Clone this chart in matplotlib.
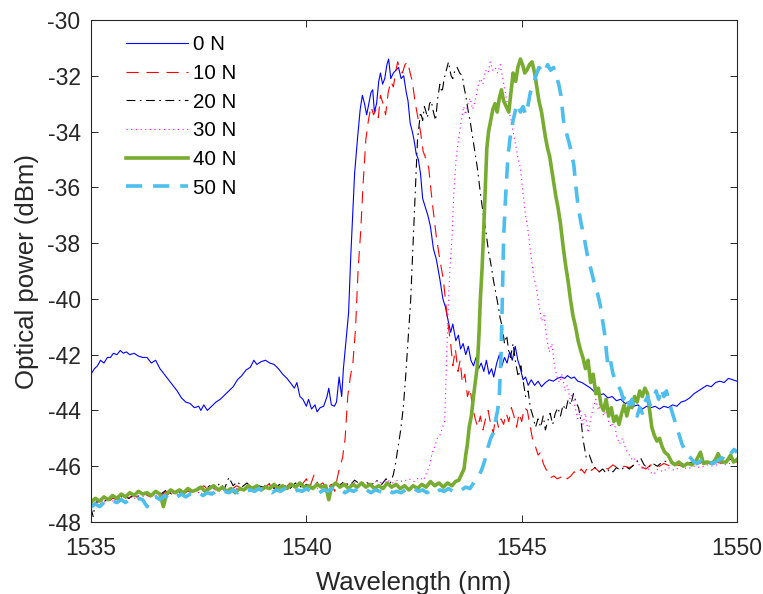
import matplotlib
matplotlib.use('Agg')
import matplotlib.pyplot as plt

plt.rcParams['font.family'] = ['Liberation Sans', 'DejaVu Sans']
plt.rcParams['axes.unicode_minus'] = False

# spectra: (wavelength nm, optical power dBm)
s_0n = [
    (1535.00, -42.7), (1535.08, -42.5), (1535.15, -42.4), (1535.22, -42.2), (1535.30, -42.3), (1535.38, -42.1),
    (1535.45, -42.1), (1535.52, -41.95), (1535.60, -42.0), (1535.68, -41.85), (1535.75, -41.95), (1535.82, -41.9),
    (1535.90, -42.0), (1536.00, -41.95), (1536.10, -42.05), (1536.20, -42.1), (1536.30, -42.1), (1536.40, -42.3),
    (1536.50, -42.2), (1536.60, -42.5), (1536.70, -42.7), (1536.80, -42.9), (1536.90, -43.1), (1537.00, -43.3),
    (1537.10, -43.55), (1537.20, -43.7), (1537.30, -43.75), (1537.40, -43.9), (1537.50, -43.85), (1537.55, -44.0),
    (1537.62, -43.8), (1537.70, -44.0), (1537.80, -43.85), (1537.90, -43.7), (1538.00, -43.6), (1538.10, -43.45),
    (1538.20, -43.3), (1538.30, -43.15), (1538.40, -42.9), (1538.50, -42.75), (1538.60, -42.55), (1538.70, -42.45),
    (1538.78, -42.2), (1538.85, -42.35), (1538.95, -42.25), (1539.05, -42.2), (1539.15, -42.3), (1539.25, -42.35),
    (1539.35, -42.5), (1539.45, -42.7), (1539.55, -42.85), (1539.65, -43.05), (1539.72, -43.2), (1539.78, -43.0),
    (1539.85, -43.5), (1539.92, -43.6), (1540.00, -43.85), (1540.05, -43.6), (1540.12, -43.95), (1540.20, -43.8),
    (1540.25, -44.05), (1540.32, -43.9), (1540.40, -43.85), (1540.48, -43.5), (1540.52, -43.2), (1540.58, -43.8),
    (1540.65, -43.85), (1540.70, -43.7), (1540.76, -42.8), (1540.82, -43.5), (1540.86, -42.5), (1540.92, -41.5),
    (1540.98, -40.5), (1541.03, -38.5), (1541.07, -37.2), (1541.12, -35.5), (1541.19, -34.2), (1541.25, -33.2),
    (1541.30, -32.7), (1541.35, -33.0), (1541.40, -33.4), (1541.45, -33.0), (1541.50, -32.6), (1541.54, -32.5),
    (1541.58, -33.3), (1541.63, -33.0), (1541.68, -32.2), (1541.72, -31.9), (1541.77, -32.3), (1541.82, -32.1),
    (1541.87, -31.6), (1541.91, -31.4), (1541.96, -32.1), (1542.02, -31.9), (1542.08, -31.8), (1542.14, -31.7),
    (1542.20, -32.1), (1542.26, -32.0), (1542.32, -32.6), (1542.36, -32.9), (1542.41, -33.7), (1542.46, -34.0),
    (1542.50, -34.3), (1542.55, -34.8), (1542.60, -35.0), (1542.65, -35.5), (1542.70, -36.4), (1542.76, -36.7),
    (1542.82, -37.0), (1542.88, -37.4), (1542.95, -38.2), (1543.02, -38.6), (1543.10, -39.3), (1543.17, -40.0),
    (1543.23, -40.3), (1543.28, -40.7), (1543.35, -41.2), (1543.40, -40.9), (1543.47, -41.5), (1543.53, -41.3),
    (1543.58, -41.8), (1543.64, -41.6), (1543.70, -42.0), (1543.76, -41.7), (1543.82, -42.2), (1543.88, -42.4),
    (1543.94, -42.1), (1544.00, -42.5), (1544.06, -42.3), (1544.12, -42.6), (1544.18, -42.2), (1544.24, -42.7),
    (1544.30, -42.5), (1544.35, -42.8), (1544.42, -42.3), (1544.48, -42.0), (1544.54, -42.4), (1544.60, -42.1),
    (1544.66, -42.3), (1544.72, -41.9), (1544.78, -42.2), (1544.85, -41.7), (1544.91, -42.2), (1544.97, -42.5),
    (1545.03, -42.9), (1545.09, -42.8), (1545.15, -43.1), (1545.22, -42.9), (1545.30, -43.1), (1545.38, -42.95),
    (1545.46, -43.15), (1545.55, -43.0), (1545.64, -42.9), (1545.73, -42.95), (1545.83, -42.85), (1545.92, -42.8),
    (1546.00, -42.85), (1546.06, -42.75), (1546.15, -42.85), (1546.22, -42.8), (1546.30, -42.95), (1546.40, -43.0),
    (1546.50, -43.1), (1546.60, -43.2), (1546.70, -43.35), (1546.80, -43.45), (1546.90, -43.4), (1547.00, -43.55),
    (1547.10, -43.5), (1547.20, -43.65), (1547.30, -43.6), (1547.40, -43.75), (1547.50, -43.7), (1547.60, -43.85),
    (1547.70, -43.8), (1547.80, -43.95), (1547.90, -43.85), (1548.00, -43.9), (1548.10, -43.85), (1548.20, -43.95),
    (1548.30, -43.85), (1548.40, -43.9), (1548.50, -43.8), (1548.60, -43.85), (1548.70, -43.7), (1548.80, -43.65),
    (1548.90, -43.55), (1549.00, -43.4), (1549.10, -43.3), (1549.20, -43.2), (1549.30, -43.1), (1549.40, -43.15),
    (1549.50, -43.0), (1549.60, -42.95), (1549.70, -43.0), (1549.80, -42.85), (1549.90, -42.9), (1550.00, -42.95)]

s_10n = [
    (1535.00, -47.4), (1535.12, -47.3), (1535.25, -47.25), (1535.38, -47.3), (1535.50, -47.15), (1535.62, -47.2),
    (1535.75, -47.1), (1535.88, -47.15), (1536.00, -47.05), (1536.12, -47.15), (1536.25, -47.0), (1536.38, -47.1),
    (1536.50, -46.95), (1536.62, -47.05), (1536.75, -46.9), (1536.88, -47.0), (1537.00, -46.95), (1537.12, -47.0),
    (1537.25, -46.9), (1537.38, -46.95), (1537.50, -46.85), (1537.62, -46.7), (1537.75, -46.9), (1537.88, -46.8),
    (1538.00, -46.85), (1538.12, -46.75), (1538.25, -46.85), (1538.38, -46.7), (1538.50, -46.8), (1538.62, -46.75),
    (1538.75, -46.85), (1538.88, -46.7), (1539.00, -46.8), (1539.12, -46.65), (1539.25, -46.75), (1539.38, -46.7),
    (1539.50, -46.8), (1539.62, -46.6), (1539.75, -46.75), (1539.88, -46.7), (1540.00, -46.45), (1540.08, -46.75),
    (1540.18, -46.3), (1540.28, -46.7), (1540.38, -46.6), (1540.48, -46.8), (1540.58, -46.65), (1540.66, -46.9),
    (1540.72, -46.4), (1540.78, -46.0), (1540.84, -45.7), (1540.90, -45.0), (1540.96, -43.5), (1541.02, -42.8),
    (1541.08, -42.3), (1541.14, -41.1), (1541.20, -39.0), (1541.26, -37.6), (1541.32, -35.8), (1541.38, -34.3),
    (1541.44, -33.6), (1541.50, -33.1), (1541.56, -33.4), (1541.62, -33.2), (1541.67, -33.5), (1541.72, -32.7),
    (1541.78, -33.0), (1541.84, -33.4), (1541.90, -32.6), (1541.96, -32.2), (1542.02, -32.4), (1542.08, -31.8),
    (1542.12, -31.5), (1542.18, -31.8), (1542.23, -31.9), (1542.29, -31.6), (1542.35, -31.5), (1542.41, -31.9),
    (1542.46, -32.2), (1542.53, -33.0), (1542.59, -33.5), (1542.65, -34.0), (1542.71, -34.7), (1542.78, -35.0),
    (1542.84, -35.3), (1542.90, -36.2), (1542.95, -36.9), (1543.02, -37.8), (1543.10, -38.6), (1543.18, -39.3),
    (1543.24, -40.2), (1543.28, -40.8), (1543.35, -41.6), (1543.40, -42.4), (1543.46, -41.8), (1543.52, -42.6),
    (1543.57, -42.2), (1543.62, -43.0), (1543.68, -42.7), (1543.74, -43.5), (1543.80, -43.2), (1543.86, -43.9),
    (1543.92, -44.3), (1543.98, -44.6), (1544.04, -44.2), (1544.10, -44.7), (1544.16, -44.3), (1544.22, -44.0),
    (1544.28, -44.5), (1544.34, -44.8), (1544.40, -44.2), (1544.46, -44.6), (1544.52, -44.3), (1544.58, -44.5),
    (1544.64, -44.1), (1544.70, -44.4), (1544.76, -43.9), (1544.82, -44.2), (1544.88, -44.6), (1544.94, -44.1),
    (1545.00, -44.4), (1545.06, -43.9), (1545.13, -44.0), (1545.20, -44.6), (1545.26, -45.1), (1545.32, -45.3),
    (1545.38, -45.6), (1545.44, -45.5), (1545.50, -45.9), (1545.56, -46.1), (1545.62, -46.2), (1545.68, -46.4),
    (1545.75, -46.35), (1545.82, -46.45), (1545.90, -46.4), (1545.98, -46.3), (1546.06, -46.45), (1546.14, -46.35),
    (1546.22, -46.2), (1546.30, -46.3), (1546.38, -46.1), (1546.46, -46.25), (1546.54, -46.0), (1546.62, -46.15),
    (1546.70, -46.05), (1546.80, -46.2), (1546.90, -46.05), (1547.00, -46.1), (1547.12, -45.95), (1547.25, -46.1),
    (1547.38, -46.0), (1547.50, -46.05), (1547.62, -45.95), (1547.75, -46.0), (1547.88, -46.1), (1548.00, -45.95),
    (1548.15, -46.05), (1548.30, -45.9), (1548.45, -46.0), (1548.60, -45.95), (1548.75, -46.0), (1548.90, -45.9),
    (1549.05, -45.95), (1549.20, -45.85), (1549.35, -45.95), (1549.50, -45.85), (1549.65, -45.9), (1549.80, -45.8),
    (1550.00, -45.85)]

s_20n = [
    (1535.00, -47.5), (1535.05, -47.8), (1535.10, -47.3), (1535.25, -47.2), (1535.38, -47.25), (1535.50, -47.1),
    (1535.62, -47.2), (1535.75, -47.05), (1535.88, -47.15), (1536.00, -47.0), (1536.12, -47.1), (1536.25, -46.95),
    (1536.38, -47.05), (1536.50, -46.9), (1536.62, -47.0), (1536.75, -46.85), (1536.88, -47.0), (1537.00, -46.9),
    (1537.12, -46.95), (1537.25, -46.85), (1537.38, -46.9), (1537.50, -46.75), (1537.62, -46.9), (1537.75, -46.7),
    (1537.88, -46.8), (1538.00, -46.6), (1538.10, -46.8), (1538.20, -46.4), (1538.30, -46.7), (1538.40, -46.55),
    (1538.50, -46.75), (1538.62, -46.6), (1538.75, -46.8), (1538.88, -46.7), (1539.00, -46.75), (1539.12, -46.6),
    (1539.25, -46.8), (1539.38, -46.65), (1539.50, -46.7), (1539.62, -46.8), (1539.75, -46.6), (1539.88, -46.75),
    (1540.00, -46.65), (1540.12, -46.75), (1540.25, -46.6), (1540.38, -46.7), (1540.50, -46.85), (1540.62, -46.6),
    (1540.75, -46.7), (1540.88, -46.55), (1541.00, -46.7), (1541.12, -46.5), (1541.25, -46.65), (1541.38, -46.55),
    (1541.50, -46.7), (1541.62, -46.5), (1541.75, -46.65), (1541.85, -46.45), (1541.95, -46.6), (1542.02, -46.3),
    (1542.07, -45.9), (1542.12, -45.4), (1542.19, -44.7), (1542.25, -43.9), (1542.30, -42.9), (1542.36, -41.5),
    (1542.42, -40.1), (1542.48, -37.9), (1542.53, -36.0), (1542.58, -34.3), (1542.65, -33.3), (1542.70, -33.6),
    (1542.74, -33.1), (1542.78, -33.3), (1542.81, -33.5), (1542.86, -33.0), (1542.90, -32.9), (1542.95, -33.3),
    (1543.00, -33.6), (1543.05, -32.8), (1543.10, -32.3), (1543.15, -32.6), (1543.20, -32.1), (1543.25, -31.8),
    (1543.30, -31.5), (1543.36, -32.0), (1543.40, -32.1), (1543.45, -31.8), (1543.50, -31.7), (1543.56, -31.9),
    (1543.62, -32.0), (1543.66, -32.4), (1543.70, -32.7), (1543.75, -33.2), (1543.81, -33.7), (1543.87, -34.3),
    (1543.92, -34.8), (1543.97, -35.3), (1544.04, -36.2), (1544.11, -37.0), (1544.17, -37.6), (1544.23, -38.3),
    (1544.29, -38.8), (1544.34, -39.3), (1544.40, -39.8), (1544.46, -40.3), (1544.50, -40.7), (1544.55, -41.0),
    (1544.60, -41.6), (1544.65, -41.3), (1544.70, -41.9), (1544.74, -42.1), (1544.80, -41.6), (1544.86, -42.3),
    (1544.92, -42.8), (1544.98, -42.4), (1545.04, -43.0), (1545.09, -43.5), (1545.15, -43.3), (1545.20, -43.9),
    (1545.26, -44.2), (1545.32, -44.6), (1545.38, -44.3), (1545.44, -44.6), (1545.50, -44.2), (1545.55, -44.7),
    (1545.60, -44.4), (1545.66, -44.1), (1545.72, -44.5), (1545.78, -44.1), (1545.84, -43.9), (1545.90, -44.2),
    (1545.96, -43.8), (1546.02, -44.0), (1546.08, -43.6), (1546.14, -43.8), (1546.20, -43.4), (1546.26, -43.7),
    (1546.32, -43.9), (1546.38, -44.4), (1546.43, -45.1), (1546.50, -45.7), (1546.57, -45.6), (1546.64, -45.9),
    (1546.72, -46.1), (1546.80, -46.2), (1546.88, -46.1), (1546.96, -46.25), (1547.04, -46.1), (1547.12, -46.2),
    (1547.20, -46.05), (1547.30, -46.15), (1547.40, -46.0), (1547.50, -46.1), (1547.60, -45.95), (1547.70, -45.8),
    (1547.76, -45.7), (1547.84, -45.95), (1547.94, -46.05), (1548.04, -45.9), (1548.15, -46.0), (1548.26, -45.85),
    (1548.40, -45.8), (1548.52, -45.95), (1548.65, -45.85), (1548.80, -45.95), (1548.95, -45.85), (1549.10, -45.9),
    (1549.25, -45.8), (1549.40, -45.9), (1549.55, -45.8), (1549.70, -45.85), (1549.85, -45.75), (1550.00, -45.8)]

s_30n = [
    (1535.00, -47.35), (1535.12, -47.3), (1535.25, -47.35), (1535.38, -47.2), (1535.50, -47.25), (1535.62, -47.15),
    (1535.75, -47.2), (1535.88, -47.1), (1536.00, -47.15), (1536.12, -47.05), (1536.25, -47.1), (1536.38, -47.0),
    (1536.50, -47.05), (1536.62, -46.95), (1536.75, -47.05), (1536.88, -46.95), (1537.00, -47.0), (1537.12, -46.9),
    (1537.25, -47.0), (1537.38, -46.9), (1537.50, -46.95), (1537.62, -46.85), (1537.75, -46.95), (1537.88, -46.85),
    (1538.00, -46.9), (1538.12, -46.8), (1538.25, -46.9), (1538.38, -46.8), (1538.50, -46.85), (1538.62, -46.75),
    (1538.75, -46.85), (1538.88, -46.8), (1539.00, -46.85), (1539.12, -46.75), (1539.25, -46.8), (1539.38, -46.7),
    (1539.50, -46.8), (1539.62, -46.7), (1539.75, -46.75), (1539.88, -46.65), (1540.00, -46.75), (1540.12, -46.7),
    (1540.25, -46.8), (1540.38, -46.65), (1540.50, -46.75), (1540.62, -46.65), (1540.75, -46.7), (1540.88, -46.6),
    (1541.00, -46.7), (1541.12, -46.6), (1541.25, -46.65), (1541.38, -46.55), (1541.50, -46.65), (1541.62, -46.55),
    (1541.75, -46.6), (1541.88, -46.5), (1542.00, -46.6), (1542.12, -46.5), (1542.25, -46.55), (1542.38, -46.45),
    (1542.50, -46.55), (1542.62, -46.4), (1542.72, -46.5), (1542.80, -46.2), (1542.86, -46.0), (1542.92, -45.5),
    (1542.98, -45.3), (1543.04, -45.0), (1543.10, -44.9), (1543.16, -44.6), (1543.21, -44.4), (1543.25, -42.5),
    (1543.29, -40.5), (1543.33, -39.0), (1543.38, -37.8), (1543.43, -36.0), (1543.48, -34.9), (1543.54, -34.2),
    (1543.60, -33.6), (1543.65, -33.1), (1543.70, -33.4), (1543.75, -33.0), (1543.80, -32.8), (1543.86, -33.2),
    (1543.92, -32.9), (1543.98, -32.4), (1544.04, -32.1), (1544.10, -32.3), (1544.16, -31.8), (1544.22, -31.9),
    (1544.27, -31.5), (1544.33, -31.8), (1544.38, -31.7), (1544.44, -31.9), (1544.50, -31.6), (1544.56, -32.1),
    (1544.62, -32.6), (1544.68, -33.1), (1544.74, -33.5), (1544.80, -34.0), (1544.86, -34.5), (1544.92, -35.0),
    (1544.97, -35.3), (1545.03, -36.2), (1545.08, -36.9), (1545.16, -37.7), (1545.22, -38.5), (1545.28, -39.2),
    (1545.34, -39.6), (1545.40, -40.2), (1545.46, -40.8), (1545.52, -40.6), (1545.58, -41.4), (1545.64, -41.9),
    (1545.70, -41.6), (1545.76, -42.4), (1545.82, -42.8), (1545.88, -43.0), (1545.94, -42.7), (1546.00, -43.3),
    (1546.06, -43.1), (1546.12, -43.6), (1546.18, -43.4), (1546.24, -43.9), (1546.30, -44.3), (1546.36, -44.0),
    (1546.42, -44.5), (1546.48, -44.1), (1546.54, -44.8), (1546.60, -44.3), (1546.66, -43.9), (1546.72, -43.6),
    (1546.78, -44.0), (1546.84, -43.7), (1546.90, -44.2), (1546.96, -44.0), (1547.02, -44.4), (1547.08, -44.6),
    (1547.14, -44.3), (1547.20, -44.9), (1547.27, -45.2), (1547.34, -45.0), (1547.42, -45.4), (1547.50, -45.6),
    (1547.58, -45.8), (1547.66, -45.7), (1547.74, -46.0), (1547.82, -46.1), (1547.90, -46.0), (1547.98, -46.2),
    (1548.06, -46.3), (1548.16, -46.1), (1548.28, -46.2), (1548.40, -46.05), (1548.55, -46.15), (1548.70, -46.0),
    (1548.85, -46.1), (1549.00, -46.0), (1549.15, -46.05), (1549.30, -45.95), (1549.45, -46.0), (1549.60, -45.9),
    (1549.75, -45.95), (1549.90, -45.85), (1550.00, -45.9)]

s_40n = [
    (1535.00, -47.3), (1535.10, -47.15), (1535.20, -47.25), (1535.30, -47.1), (1535.40, -47.2), (1535.50, -47.05),
    (1535.60, -47.15), (1535.70, -47.0), (1535.80, -47.1), (1535.90, -46.95), (1536.00, -47.05), (1536.10, -46.9),
    (1536.20, -47.0), (1536.30, -46.95), (1536.40, -47.05), (1536.50, -46.9), (1536.60, -47.0), (1536.68, -47.45),
    (1536.75, -47.0), (1536.85, -46.85), (1536.95, -46.95), (1537.05, -46.85), (1537.15, -46.95), (1537.25, -46.8),
    (1537.35, -46.9), (1537.45, -46.85), (1537.55, -46.75), (1537.65, -46.9), (1537.75, -46.8), (1537.85, -46.7),
    (1537.95, -46.85), (1538.05, -46.75), (1538.15, -46.9), (1538.25, -46.8), (1538.35, -46.95), (1538.45, -46.8),
    (1538.55, -46.85), (1538.65, -46.7), (1538.75, -46.8), (1538.85, -46.7), (1538.95, -46.85), (1539.05, -46.75),
    (1539.15, -46.8), (1539.25, -46.65), (1539.35, -46.8), (1539.45, -46.7), (1539.55, -46.8), (1539.65, -46.65),
    (1539.75, -46.75), (1539.85, -46.6), (1539.95, -46.75), (1540.05, -46.7), (1540.15, -46.8), (1540.25, -46.65),
    (1540.35, -46.75), (1540.45, -46.7), (1540.52, -47.2), (1540.58, -46.75), (1540.68, -46.6), (1540.78, -46.75),
    (1540.88, -46.65), (1540.98, -46.8), (1541.08, -46.65), (1541.18, -46.75), (1541.28, -46.6), (1541.38, -46.75),
    (1541.48, -46.65), (1541.58, -46.8), (1541.68, -46.7), (1541.78, -46.8), (1541.88, -46.6), (1541.98, -46.75),
    (1542.08, -46.65), (1542.18, -46.8), (1542.28, -46.7), (1542.38, -46.85), (1542.48, -46.7), (1542.58, -46.8),
    (1542.68, -46.65), (1542.78, -46.75), (1542.88, -46.55), (1542.98, -46.7), (1543.08, -46.6), (1543.18, -46.75),
    (1543.28, -46.6), (1543.38, -46.7), (1543.46, -46.55), (1543.54, -46.5), (1543.60, -46.3), (1543.66, -46.1),
    (1543.70, -45.6), (1543.74, -45.2), (1543.78, -44.6), (1543.83, -44.2), (1543.88, -43.5), (1543.93, -42.9),
    (1543.97, -42.4), (1544.01, -41.2), (1544.04, -40.0), (1544.08, -38.9), (1544.11, -37.8), (1544.15, -36.2),
    (1544.19, -34.6), (1544.23, -34.0), (1544.28, -33.6), (1544.33, -33.2), (1544.38, -33.0), (1544.43, -33.3),
    (1544.48, -32.8), (1544.53, -32.5), (1544.58, -32.9), (1544.64, -33.1), (1544.70, -33.3), (1544.75, -32.6),
    (1544.80, -31.9), (1544.86, -32.2), (1544.91, -31.7), (1544.97, -31.4), (1545.02, -31.6), (1545.07, -31.9),
    (1545.12, -31.8), (1545.18, -31.6), (1545.24, -31.5), (1545.30, -31.9), (1545.35, -32.4), (1545.40, -32.9),
    (1545.46, -33.3), (1545.50, -33.7), (1545.55, -34.2), (1545.60, -34.6), (1545.65, -34.9), (1545.70, -35.4),
    (1545.74, -35.8), (1545.79, -36.3), (1545.84, -36.7), (1545.90, -37.3), (1545.96, -38.1), (1546.02, -38.8),
    (1546.08, -39.4), (1546.13, -40.0), (1546.19, -40.6), (1546.25, -41.0), (1546.31, -41.5), (1546.36, -41.8),
    (1546.42, -42.1), (1546.48, -42.5), (1546.54, -42.2), (1546.60, -43.0), (1546.66, -42.7), (1546.72, -43.4),
    (1546.78, -43.2), (1546.84, -43.8), (1546.90, -44.0), (1546.96, -43.6), (1547.02, -44.2), (1547.08, -43.9),
    (1547.14, -44.4), (1547.20, -44.2), (1547.26, -44.5), (1547.32, -44.1), (1547.38, -43.8), (1547.44, -44.2),
    (1547.50, -43.8), (1547.56, -43.9), (1547.62, -43.5), (1547.68, -43.7), (1547.74, -43.3), (1547.80, -43.5),
    (1547.86, -43.2), (1547.92, -43.4), (1547.97, -44.0), (1548.02, -44.6), (1548.08, -44.9), (1548.14, -45.1),
    (1548.20, -45.0), (1548.26, -45.3), (1548.32, -45.5), (1548.40, -45.6), (1548.48, -45.85), (1548.56, -45.95),
    (1548.65, -45.85), (1548.75, -46.0), (1548.85, -45.9), (1548.95, -45.95), (1549.05, -45.8), (1549.15, -45.5),
    (1549.22, -45.9), (1549.32, -45.85), (1549.42, -45.9), (1549.50, -45.75), (1549.56, -45.55), (1549.64, -45.85),
    (1549.75, -45.85), (1549.85, -45.6), (1549.92, -45.85), (1550.00, -45.75)]

s_50n = [
    (1535.00, -47.45), (1535.10, -47.35), (1535.20, -47.45), (1535.30, -47.3), (1535.40, -47.35), (1535.50, -47.25),
    (1535.60, -47.3), (1535.70, -47.2), (1535.80, -47.3), (1535.90, -47.2), (1536.00, -47.25), (1536.10, -47.15),
    (1536.20, -47.2), (1536.30, -47.45), (1536.40, -47.15), (1536.50, -47.1), (1536.60, -47.2), (1536.70, -47.05),
    (1536.80, -47.15), (1536.90, -47.05), (1537.00, -47.1), (1537.10, -47.0), (1537.20, -47.1), (1537.30, -47.0),
    (1537.40, -47.05), (1537.50, -46.95), (1537.60, -47.05), (1537.70, -46.95), (1537.80, -47.0), (1537.90, -46.9),
    (1538.00, -47.0), (1538.10, -46.9), (1538.20, -46.95), (1538.30, -46.85), (1538.40, -46.95), (1538.50, -46.85),
    (1538.60, -46.9), (1538.70, -46.85), (1538.80, -46.9), (1538.90, -46.8), (1539.00, -46.9), (1539.10, -46.85),
    (1539.20, -46.95), (1539.30, -46.85), (1539.40, -46.9), (1539.50, -46.8), (1539.60, -46.9), (1539.70, -46.95),
    (1539.80, -46.85), (1539.90, -46.9), (1540.00, -46.8), (1540.10, -46.9), (1540.20, -46.85), (1540.30, -46.95),
    (1540.40, -46.85), (1540.50, -46.9), (1540.60, -46.8), (1540.70, -46.9), (1540.80, -46.85), (1540.90, -46.95),
    (1541.00, -46.85), (1541.10, -46.9), (1541.20, -46.8), (1541.30, -46.9), (1541.40, -46.85), (1541.50, -46.95),
    (1541.60, -46.85), (1541.70, -46.9), (1541.80, -46.95), (1541.90, -46.85), (1542.00, -46.95), (1542.10, -46.9),
    (1542.20, -46.95), (1542.30, -46.85), (1542.40, -46.9), (1542.50, -46.8), (1542.60, -46.9), (1542.70, -46.85),
    (1542.80, -46.95), (1542.90, -46.85), (1543.00, -46.95), (1543.10, -46.85), (1543.20, -46.9), (1543.30, -46.8),
    (1543.40, -46.9), (1543.50, -46.8), (1543.60, -46.85), (1543.70, -46.75), (1543.80, -46.8), (1543.90, -46.55),
    (1543.98, -46.4), (1544.05, -46.2), (1544.10, -46.0), (1544.16, -45.7), (1544.22, -45.3), (1544.28, -45.0),
    (1544.34, -44.8), (1544.40, -44.3), (1544.44, -44.0), (1544.48, -43.5), (1544.52, -42.0), (1544.55, -40.0),
    (1544.58, -37.8), (1544.63, -36.2), (1544.68, -34.9), (1544.74, -34.1), (1544.80, -33.6), (1544.86, -33.2),
    (1544.91, -33.0), (1544.97, -33.3), (1545.03, -33.1), (1545.09, -33.4), (1545.14, -33.1), (1545.20, -32.6),
    (1545.27, -32.3), (1545.33, -32.0), (1545.40, -31.7), (1545.46, -31.8), (1545.53, -31.9), (1545.60, -31.6),
    (1545.67, -31.8), (1545.74, -31.7), (1545.80, -32.0), (1545.86, -32.3), (1545.91, -32.7), (1545.97, -33.6),
    (1546.03, -34.0), (1546.10, -34.4), (1546.16, -34.8), (1546.21, -35.2), (1546.26, -36.0), (1546.31, -36.7),
    (1546.38, -37.3), (1546.45, -37.8), (1546.52, -38.4), (1546.60, -38.9), (1546.68, -39.4), (1546.76, -39.8),
    (1546.82, -40.2), (1546.88, -40.8), (1546.93, -41.3), (1547.00, -42.4), (1547.06, -42.2), (1547.12, -42.7),
    (1547.18, -42.9), (1547.24, -43.1), (1547.30, -43.3), (1547.36, -43.6), (1547.42, -43.4), (1547.50, -43.8),
    (1547.56, -43.6), (1547.62, -44.0), (1547.68, -44.2), (1547.74, -43.9), (1547.80, -44.1), (1547.86, -43.7),
    (1547.92, -43.5), (1547.98, -43.8), (1548.05, -43.6), (1548.12, -43.3), (1548.18, -43.6), (1548.24, -43.2),
    (1548.30, -43.5), (1548.36, -43.3), (1548.42, -43.7), (1548.48, -44.0), (1548.54, -44.3), (1548.60, -44.6),
    (1548.66, -44.9), (1548.72, -45.2), (1548.78, -45.4), (1548.85, -45.6), (1548.92, -45.7), (1549.00, -45.85),
    (1549.08, -45.9), (1549.16, -45.8), (1549.25, -45.95), (1549.35, -45.85), (1549.45, -45.9), (1549.55, -45.8),
    (1549.65, -45.7), (1549.75, -45.8), (1549.85, -45.55), (1549.93, -45.4), (1550.00, -45.5)]

labels = ['0 N', '10 N', '20 N', '30 N', '40 N', '50 N']
xticks = [1535, 1540, 1545, 1550]
yticks = list(range(-48, -29, 2))

fig = plt.figure(figsize=(7.63, 5.94), dpi=100)
ax = fig.add_axes([0.1193, 0.1212, 0.8467, 0.8451])

styles = [
    dict(color=(0, 0, 1), lw=0.8, ls='-'),
    dict(color=(1, 0, 0), lw=0.8, ls=(0, (11, 7))),
    dict(color='k', lw=0.8, ls=(0, (8, 4, 1.5, 4))),
    dict(color=(1, 0, 1), lw=0.8, ls=(0, (1, 3.2))),
    dict(color=(0.466, 0.674, 0.188), lw=2.6, ls='-'),
    dict(color=(0.302, 0.745, 0.933), lw=2.6, ls=(0, (4.5, 3))),
]
for s, lab, st in zip([s_0n, s_10n, s_20n, s_30n, s_40n, s_50n], labels, styles):
    wl = [p[0] for p in s]
    pw = [p[1] for p in s]
    ax.plot(wl, pw, label=lab, **st)

grey = (0.15, 0.15, 0.15)
ax.set_xlim(1535, 1550)
ax.set_ylim(-48, -30)
ax.set_xticks(xticks)
ax.set_yticks(yticks)
ax.tick_params(direction='in', top=True, right=True, length=5, width=0.7,
               labelsize=16.5, colors=grey)
ax.tick_params(axis='x', pad=11)
ax.tick_params(axis='y', pad=7.5)
for sp in ax.spines.values():
    sp.set_color(grey)
    sp.set_linewidth(0.8)
ax.set_xlabel('Wavelength (nm)', fontsize=18.5, color=grey, labelpad=8)
ax.set_ylabel('Optical power (dBm)', fontsize=18.5, color=grey, labelpad=6)

ax.legend(loc='upper left', bbox_to_anchor=(0.045, 0.982), frameon=False, fontsize=14.8,
          handlelength=3.0, handletextpad=0.25, labelspacing=0.47, borderaxespad=0, borderpad=0.3)

fig.savefig('out.png', dpi=100)
